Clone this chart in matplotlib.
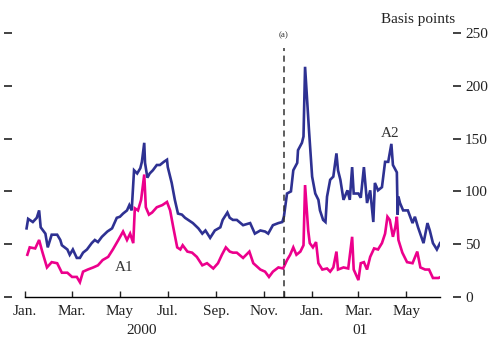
import numpy as np
import matplotlib.pyplot as plt
import matplotlib.transforms as mtransforms
from matplotlib.ticker import FixedLocator, FixedFormatter

plt.rcParams['font.family'] = ['Liberation Serif', 'DejaVu Serif']

START = np.datetime64('2000-01-01')

# A2 spread, basis points (days counted from 1 Jan 2000)
a2_days = [2, 4, 10, 15, 18, 20, 26, 29, 34, 41, 45, 47, 54, 57, 61, 66, 70, 74, 79, 85,
           89, 93, 98, 105, 111, 117, 121, 125, 130, 133, 136, 139, 143, 147, 149, 152, 153,
           156, 159, 163, 168, 172, 177, 181, 182, 187, 191, 195, 200, 204, 208, 214, 221,
           226, 230, 236, 242, 249, 252, 258, 261, 265, 270, 278, 287, 293, 300, 306, 310,
           316, 323, 328, 330, 334, 339, 342, 347, 348, 353, 355, 357, 362, 366, 370, 374,
           376, 380, 383, 385, 389, 393, 397, 399, 402, 406, 411, 414, 417, 419, 425, 428,
           432, 436, 440, 444, 446, 450, 455, 459, 463, 467, 469, 474, 475, 476, 478, 482,
           488, 494, 497, 501, 508, 513, 516, 520, 525, 529]
a2_bp = [65, 74, 71, 75, 82, 66, 60, 47, 59, 59, 54, 49, 45, 40, 45, 37, 37, 42, 45, 51,
         54, 52, 57, 62, 65, 75, 76, 79, 82, 87, 82, 120, 117, 122, 128, 146, 127,
         113, 117, 120, 125, 125, 128, 130, 123, 108, 92, 79, 78, 75, 73, 70, 65,
         60, 63, 56, 63, 66, 73, 80, 75, 73, 73, 68, 70, 60, 63, 62, 60,
         68, 70, 71, 76, 98, 100, 120, 127, 139, 146, 152, 218, 158, 114, 98, 92,
         82, 73, 71, 95, 111, 114, 136, 120, 111, 92, 101, 92, 123, 98, 98, 94,
         123, 89, 101, 71, 108, 101, 104, 128, 128, 145, 125, 118, 78, 95, 89, 82,
         82, 70, 76, 66, 51, 70, 63, 51, 45, 51]

# A1 spread, basis points
a1_days = [3, 6, 13, 18, 22, 28, 34, 41, 47, 54, 60, 66, 70, 74, 80, 87, 93, 99, 106, 112,
           119, 125, 130, 134, 138, 140, 144, 148, 152, 154, 158, 162, 168, 175, 181, 185,
           189, 194, 198, 201, 207, 213, 219, 226, 232, 240, 246, 251, 256, 261, 265, 270,
           278, 286, 291, 300, 306, 311, 316, 323, 329, 334, 338, 342, 346, 351, 355, 357,
           361, 363, 367, 371, 374, 379, 385, 389, 393, 397, 399, 406, 412, 417, 419, 425,
           428, 432, 436, 440, 445, 450, 455, 459, 462, 465, 469, 472, 474, 476, 481, 487,
           494, 500, 504, 510, 515, 520, 527, 530]
a1_bp = [40, 47, 46, 54, 43, 28, 33, 32, 23, 23, 19, 19, 14, 24, 26, 28, 30, 35, 38, 45,
         54, 62, 54, 60, 51, 84, 82, 92, 116, 85, 78, 80, 85, 87, 90, 82,
         66, 47, 45, 49, 43, 42, 38, 30, 32, 27, 32, 40, 47, 43, 42, 42,
         37, 43, 32, 26, 24, 19, 24, 28, 27, 35, 40, 47, 40, 43, 49, 106,
         63, 51, 47, 52, 32, 26, 27, 24, 28, 43, 26, 28, 27, 57, 26, 16,
         32, 33, 26, 38, 46, 45, 51, 60, 76, 73, 57, 66, 76, 54, 42, 33,
         32, 43, 28, 26, 26, 18, 18, 19]

tick_dates = ['2000-01-01', '2000-03-01', '2000-05-01', '2000-07-01', '2000-09-01',
              '2000-11-01', '2001-01-01', '2001-03-01', '2001-05-01']
tick_labels = ['Jan.', 'Mar.', 'May', 'Jul.', 'Sep.', 'Nov.', 'Jan.', 'Mar.', 'May']
break_date = '2000-11-26'
year_labels = ['2000', '01']
year_label_dates = ['2000-05-29', '2001-03-03']
y_ticks = [0, 50, 100, 150, 200, 250]

BLUE = '#2e3192'
PINK = '#ec008c'


def to_dates(days):
    return START + np.array(days).astype('timedelta64[D]')


fig = plt.figure(figsize=(4.91, 3.38), dpi=100)
ax = fig.add_axes([25 / 491, 41 / 338, 415 / 491, 264 / 338])

ax.plot(to_dates(a2_days), a2_bp, color=BLUE, lw=1.9, solid_joinstyle='miter')
ax.plot(to_dates(a1_days), a1_bp, color=PINK, lw=1.9, solid_joinstyle='miter')

ax.set_ylim(0, 250)
ax.set_xlim(np.datetime64('2000-01-01'), np.datetime64('2001-06-13'))

# vertical marker (a)
bd = np.datetime64(break_date)
ax.axvline(bd, ymin=0, ymax=0.943, color='#333333', lw=1.1, ls=(0, (4, 3)))
ax.text(bd, 0.992, '(a)', transform=mtransforms.blended_transform_factory(ax.transData, ax.transAxes),
        ha='center', va='center', fontsize=6.5, color='#333333')

ax.text(np.datetime64('2000-05-06'), 27.5, 'A1', ha='center', va='center', fontsize=11, color='#333333')
ax.text(np.datetime64('2001-04-11'), 155, 'A2', ha='center', va='center', fontsize=11, color='#333333')

# x axis: bimonthly ticks plus one at the marker
xt = [np.datetime64(d) for d in tick_dates] + [bd]
ax.xaxis.set_major_locator(FixedLocator([float(v) for v in
                                         (np.array(xt, dtype='datetime64[D]') - np.datetime64('1970-01-01')).astype(float)]))
ax.xaxis.set_major_formatter(FixedFormatter(tick_labels + ['']))
ax.tick_params(axis='x', direction='in', length=4, width=1, pad=6, labelsize=11,
               colors='#222222')

trans = mtransforms.blended_transform_factory(ax.transData, ax.transAxes)
for lab, d in zip(year_labels, year_label_dates):
    ax.text(np.datetime64(d), -0.125, lab, transform=trans, ha='center', va='center',
            fontsize=11, color='#222222')

# y axis: detached ticks on both sides, labels on the right
ax.set_yticks(y_ticks)
for side in ['left', 'right']:
    ax.spines[side].set_position(('outward', 12))
    ax.spines[side].set_visible(False)
ax.spines['top'].set_visible(False)
ax.spines['bottom'].set_linewidth(1)
ax.tick_params(axis='y', left=True, right=True, labelleft=False, labelright=True,
               direction='inout', length=6, width=1.2, pad=3, labelsize=11,
               colors='#222222')

fig.text(455 / 491, 1 - 20 / 338, 'Basis points', ha='right', va='center',
         fontsize=11, color='#222222')

fig.savefig('out.png', dpi=100)
